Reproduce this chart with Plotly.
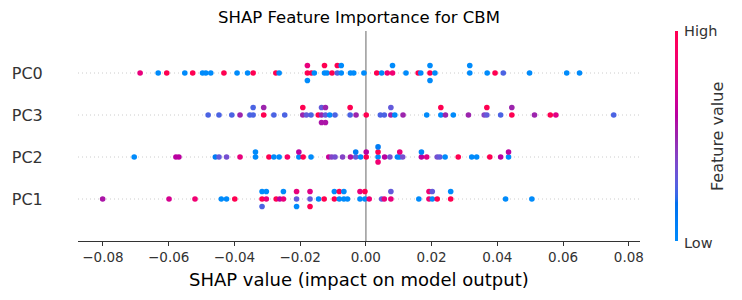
import numpy as np
import plotly.graph_objects as go

# ---------------- data ----------------
features = ["PC0", "PC3", "PC2", "PC1"]          # top to bottom

pc0_shap = [-0.0687, -0.0632, -0.0606, -0.0551, -0.0527, -0.0497, -0.0487, -0.0472,
            -0.0432, -0.0392, -0.0360, -0.0343, -0.0274, -0.0264,
            -0.0178, -0.0178, -0.0178, -0.0166, -0.0157, -0.0126, -0.0126, -0.0118,
            -0.0103, -0.0087, -0.0087, -0.0075, -0.0075, -0.0047, -0.0037, -0.0006,
            0.0033, 0.0048, 0.0065, 0.0081, 0.0081, 0.0122, 0.0159, 0.0167,
            0.0195, 0.0195, 0.0195, 0.0210, 0.0316, 0.0316, 0.0369, 0.0393,
            0.0418, 0.0498, 0.0611, 0.0650]
pc0_feat = [0.8, 0.0, 1.0, 0.0, 1.0, 0.0, 0.0, 0.0,
            1.0, 0.0, 0.0, 1.0, 1.0, 0.0,
            1.0, 0.8, 0.0, 1.0, 0.0, 0.0, 1.0, 0.0,
            1.0, 0.25, 1.0, 0.0, 0.0, 0.0, 0.0, 0.0,
            1.0, 0.0, 0.85, 0.85, 0.0, 0.0, 1.0, 0.0,
            1.0, 0.0, 0.0, 0.0, 0.0, 0.0, 0.0, 1.0,
            0.25, 0.0, 0.0, 0.0]

pc3_shap = [-0.0480, -0.0447, -0.0408, -0.0383, -0.0353, -0.0343, -0.0343,
            -0.0311, -0.0311, -0.0280, -0.0247, -0.0192, -0.0192, -0.0181,
            -0.0167, -0.0145, -0.0135, -0.0135, -0.0135, -0.0123, -0.0123, -0.0123,
            -0.0110, -0.0094, -0.0048, -0.0048, -0.0030, 0.0001,
            0.0044, 0.0056, 0.0076, 0.0076, 0.0088, 0.0113, 0.0185,
            0.0228, 0.0228, 0.0242, 0.0266, 0.0312, 0.0360, 0.0368, 0.0368,
            0.0410, 0.0444, 0.0444, 0.0513, 0.0561, 0.0578, 0.0754]
pc3_feat = [0.25, 0.25, 0.25, 0.5, 0.25, 0.25, 0.25,
            1.0, 0.5, 0.25, 0.25, 0.5, 1.0, 0.3,
            0.25, 1.0, 0.5, 0.3, 0.55, 0.3, 0.5, 0.55,
            0.0, 0.25, 0.25, 1.0, 0.5, 1.0,
            0.25, 0.25, 0.5, 0.3, 0.0, 0.5, 0.0,
            0.0, 1.0, 0.5, 0.0, 0.5, 0.4, 0.3, 1.0,
            0.25, 1.0, 0.5, 0.5, 1.0, 0.75, 0.25]

pc2_shap = [-0.0705, -0.0578, -0.0569, -0.0458, -0.0447, -0.0424, -0.0383,
            -0.0336, -0.0336, -0.0295, -0.0280, -0.0264, -0.0239,
            -0.0204, -0.0204, -0.0191, -0.0167, -0.0113, -0.0104, -0.0094,
            -0.0071, -0.0047, -0.0031, -0.0031, -0.0016, 0.0001, 0.0001,
            0.0037, 0.0037, 0.0037, 0.0037, 0.0057, 0.0073, 0.0096,
            0.0103, 0.0103, 0.0112, 0.0169, 0.0169, 0.0185, 0.0217, 0.0225,
            0.0241, 0.0281, 0.0322, 0.0337, 0.0377, 0.0410, 0.0434, 0.0434]
pc2_feat = [0.0, 0.6, 0.6, 0.1, 0.3, 0.35, 0.8,
            0.0, 0.0, 1.0, 0.0, 0.0, 0.9,
            0.0, 0.6, 1.0, 0.0, 0.65, 0.4, 0.35,
            0.4, 0.55, 0.3, 0.1, 0.0, 1.0, 0.6,
            0.0, 1.0, 0.85, 0.1, 0.6, 0.35, 0.05,
            0.0, 0.8, 0.35, 0.6, 0.05, 0.75, 0.35, 0.3,
            0.0, 1.0, 0.0, 0.0, 1.0, 0.6, 0.0, 0.6]

pc1_shap = [-0.0801, -0.0599, -0.0520, -0.0440, -0.0424, -0.0399,
            -0.0316, -0.0316, -0.0316, -0.0303, -0.0303, -0.0273, -0.0262,
            -0.0251, -0.0251, -0.0211, -0.0211, -0.0211, -0.0170, -0.0170, -0.0170,
            -0.0144, -0.0127, -0.0096, -0.0096, -0.0081, -0.0081, -0.0067, -0.0067,
            -0.0056, -0.0018, -0.0018, -0.0003, -0.0003, 0.0010, 0.0048, 0.0056,
            0.0076, 0.0076, 0.0161, 0.0192, 0.0192, 0.0202, 0.0202, 0.0217,
            0.0258, 0.0258, 0.0425, 0.0505]
pc1_feat = [0.55, 0.7, 0.85, 0.0, 0.0, 1.0,
            1.0, 0.0, 0.25, 0.8, 0.0, 1.0, 0.6,
            0.8, 0.0, 0.3, 0.8, 0.0, 0.3, 0.75, 1.0,
            0.0, 1.0, 1.0, 0.0, 0.0, 1.0, 0.0, 0.0,
            0.0, 0.0, 0.8, 0.0, 1.0, 0.85, 0.3, 0.8,
            0.8, 0.3, 0.0, 0.85, 0.85, 0.0, 0.3, 1.0,
            1.0, 0.0, 0.0, 0.0]

shap_values = {"PC0": pc0_shap, "PC3": pc3_shap, "PC2": pc2_shap, "PC1": pc1_shap}
feature_values = {"PC0": pc0_feat, "PC3": pc3_feat, "PC2": pc2_feat, "PC1": pc1_feat}

x_ticks = [-0.08, -0.06, -0.04, -0.02, 0.0, 0.02, 0.04, 0.06, 0.08]
x_tick_labels = ["\u22120.08", "\u22120.06", "\u22120.04", "\u22120.02", "0.00",
                 "0.02", "0.04", "0.06", "0.08"]
x_range = [-0.0876, 0.0834]


# ---------------- SHAP red_blue colormap (LCH interpolation) ----------------
def lch2rgb(L, C, H):
    a, b = C * np.cos(H), C * np.sin(H)
    fy = (L + 16) / 116.0
    fx = fy + a / 500.0
    fz = fy - b / 200.0

    def finv(t):
        return t ** 3 if t ** 3 > 0.008856 else (t - 16 / 116.0) / 7.787

    X, Y, Z = 0.95047 * finv(fx), 1.0 * finv(fy), 1.08883 * finv(fz)
    r = 3.2406 * X - 1.5372 * Y - 0.4986 * Z
    g = -0.9689 * X + 1.8758 * Y + 0.0415 * Z
    bb = 0.0557 * X - 0.2040 * Y + 1.0570 * Z
    out = []
    for c in (r, g, bb):
        c = 12.92 * c if c <= 0.0031308 else 1.055 * (max(c, 0) ** (1 / 2.4)) - 0.055
        out.append(int(round(255 * min(max(c, 0.0), 1.0))))
    return "rgb(%d,%d,%d)" % tuple(out)


blue_lch = [54.0, 70.0, 4.6588]
red_lch = [54.0, 90.0, 0.35470565 + 2 * np.pi]
l_mid = 40.0
nsteps = 100
l_vals = list(np.linspace(blue_lch[0], l_mid, nsteps // 2)) + list(np.linspace(l_mid, red_lch[0], nsteps // 2))
c_vals = np.linspace(blue_lch[1], red_lch[1], nsteps)
h_vals = np.linspace(blue_lch[2], red_lch[2], nsteps)
colorscale = [[float(p), lch2rgb(l, c, h)] for p, l, c, h in
              zip(np.linspace(0, 1, nsteps), l_vals, c_vals, h_vals)]


# ---------------- beeswarm layout (same scheme as shap) ----------------
def swarm_offsets(vals, nbins=100, row_height=0.4):
    v = np.asarray(vals, dtype=float)
    quant = np.round(nbins * (v - v.min()) / (v.max() - v.min() + 1e-8))
    inds = np.argsort(quant, kind="stable")
    layer, last = 0, -1
    ys = np.zeros(len(v))
    for i in inds:
        if quant[i] != last:
            layer = 0
        ys[i] = np.ceil(layer / 2) * ((layer % 2) * 2 - 1)
        layer += 1
        last = quant[i]
    ys *= 0.9 * (row_height / np.max(ys + 1))
    return ys


# ---------------- figure ----------------
# the page body adds an 8px offset, so the figure is 8px smaller and shifted
OFF = 8
W, H = 742 - OFF, 300 - OFF
L_M, T_M = 78 - OFF, 31 - OFF
R_M = W - (640 - OFF)
B_M = H - (241 - OFF)
plot_w = W - L_M - R_M
plot_h = H - T_M - B_M


def px_x(px):   # reference pixel x -> paper fraction
    return (px - OFF - L_M) / plot_w


def px_y(py):   # reference pixel y -> paper fraction
    return (T_M + plot_h - (py - OFF)) / plot_h


fig = go.Figure()
n = len(features)
shapes = []
for i, f in enumerate(features):
    pos = n - 1 - i
    shapes.append(dict(type="line", xref="paper", yref="y", x0=0, x1=1, y0=pos, y1=pos,
                       line=dict(color="#cccccc", width=1, dash="1px,3px"), layer="below"))
shapes.append(dict(type="line", xref="x", yref="paper", x0=0, x1=0, y0=0, y1=1,
                   line=dict(color="#999999", width=1.5), layer="below"))

for i, f in enumerate(features):
    pos = n - 1 - i
    sv = np.array(shap_values[f])
    ys = swarm_offsets(sv)
    fig.add_trace(go.Scatter(
        x=sv, y=pos + ys, mode="markers", showlegend=False, hoverinfo="skip",
        marker=dict(size=5.6, color=feature_values[f], colorscale=colorscale,
                    cmin=0, cmax=1, line=dict(width=0),
                    showscale=(i == 0),
                    colorbar=dict(thickness=3, len=1, lenmode="fraction", y=0.5, yanchor="middle",
                                  x=px_x(675), xanchor="left", xpad=0, ypad=0,
                                  outlinewidth=0, showticklabels=False, ticks=""))))

font_family = "DejaVu Sans"
fig.update_layout(
    width=W, height=H, margin=dict(l=L_M, r=R_M, t=T_M, b=B_M, autoexpand=False),
    paper_bgcolor="white", plot_bgcolor="white",
    font=dict(family=font_family, color="#333333"),
    title=dict(text="SHAP Feature Importance for CBM", x=0.5, xref="paper",
               y=1 - (17 - OFF) / H, yref="container", yanchor="middle", xanchor="center",
               font=dict(size=16.5, color="black", family=font_family)),
    shapes=shapes,
    xaxis=dict(range=x_range,
               tickvals=x_ticks, ticktext=x_tick_labels, ticks="outside", ticklen=4,
               tickcolor="#333333", tickwidth=1, showline=True, linecolor="#333333",
               linewidth=1, showgrid=False, zeroline=False, automargin=False,
               tickfont=dict(size=13.5, color="#333333")),
    yaxis=dict(range=[-1, n], tickvals=[n - 1 - i for i in range(n)], ticktext=features,
               ticks="outside", ticklen=31, tickcolor="rgba(0,0,0,0)",
               showline=False, showgrid=False, zeroline=False, automargin=False,
               tickfont=dict(size=16, color="#333333")),
    annotations=[
        dict(text="SHAP value (impact on model output)", xref="paper", yref="paper",
             x=0.5, y=px_y(279), xanchor="center", yanchor="middle",
             showarrow=False, font=dict(size=18, color="black")),
        dict(text="High", xref="paper", yref="paper", x=px_x(682), y=px_y(31),
             xanchor="left", yanchor="middle", showarrow=False, font=dict(size=14.5, color="#333333")),
        dict(text="Low", xref="paper", yref="paper", x=px_x(682), y=px_y(243),
             xanchor="left", yanchor="middle", showarrow=False, font=dict(size=14.5, color="#333333")),
        dict(text="Feature value", xref="paper", yref="paper", x=px_x(717), y=px_y(137),
             xanchor="center", yanchor="middle", textangle=-90, showarrow=False,
             font=dict(size=16, color="#333333")),
    ],
)

fig.write_html("out.html")
